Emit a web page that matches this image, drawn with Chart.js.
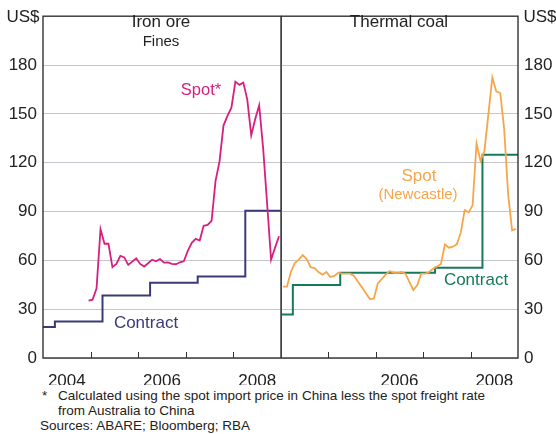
<!DOCTYPE html>
<html>
<head>
<meta charset="utf-8">
<script src="https://cdn.jsdelivr.net/npm/chart.js@4"></script>
<style>
  body { margin: 0; background: #fff; }
  #wrap { position: relative; width: 556px; height: 434px; overflow: hidden;
          font-family: Arial, 'Liberation Sans', sans-serif; color: #222; }
  canvas { position: absolute; top: 0; }
  .lbl { position: absolute; white-space: nowrap; transform: translate(-50%, -50%); }
  .note { position: absolute; font-size: 13.5px; line-height: 15px; white-space: nowrap; color: #222; }
</style>
</head>
<body>
<div id="wrap">
  <canvas id="ironChart" width="282" height="385" style="left:0"></canvas>
  <canvas id="coalChart" width="275" height="385" style="left:281px"></canvas>

  <div class="lbl" style="left:23px; top:17px; font-size:17px">US$</div>
  <div class="lbl" style="left:540px; top:17px; font-size:17px">US$</div>
  <div class="lbl" style="left:161px; top:22px; font-size:17px">Iron ore</div>
  <div class="lbl" style="left:161px; top:40px; font-size:15px">Fines</div>
  <div class="lbl" style="left:399px; top:22px; font-size:17px">Thermal coal</div>
  <div class="lbl" style="left:201px; top:89px; font-size:16.5px; color:#d81e7f">Spot*</div>
  <div class="lbl" style="left:146px; top:323px; font-size:17px; color:#3a3a78">Contract</div>
  <div class="lbl" style="left:419px; top:176px; font-size:17px; color:#f7a54a">Spot</div>
  <div class="lbl" style="left:418px; top:193px; font-size:15px; color:#f7a54a">(Newcastle)</div>
  <div class="lbl" style="left:476px; top:280px; font-size:17px; color:#16795a">Contract</div>

  <div class="note" style="left:42px; top:388px">*</div>
  <div class="note" style="left:58px; top:388px">Calculated using the spot import price in China less the spot freight rate<br>from Australia to China</div>
  <div class="note" style="left:40px; top:418px">Sources: ABARE; Bloomberg; RBA</div>
</div>
<script>
// Monthly series, first point mid-month
const ironSpotStart = 2004 + 11.5 / 12;   // Dec 2004
const ironSpot = [35.2, 35.8, 42.8, 79.2, 70.2, 70.2, 55.8, 57.8, 62.8, 61.8, 57.2, 59.2,
                  61.2, 57.8, 56.2, 58.2, 60.4, 59.4, 60.8, 58.6, 58.8, 57.8, 57.6, 58.8,
                  59.4, 65.8, 70.8, 73.2, 72.2, 81.2, 81.8, 84.2, 108.8, 120.8, 142.8, 148.8,
                  153.8, 169.8, 167.8, 169.2, 158.8, 136.8, 146.8, 155.2, 128.8, 94.8, 60.4, 67.8,
                  74.8];

const coalSpotStart = 2004 + 0.5 / 12;    // Jan 2004
const coalSpot = [43.8, 43.8, 52.8, 58.4, 60.4, 63.2, 60.8, 55.8, 55.2, 52.8, 51.2, 52.8,
                  49.8, 50.4, 52.4, 51.8, 51.8, 51.8, 50.4, 46.8, 43.4, 39.8, 36.2, 36.4,
                  45.8, 48.4, 51.2, 53.4, 52.4, 52.2, 52.8, 51.8, 46.8, 41.8, 44.8, 51.8,
                  51.8, 52.8, 54.8, 56.2, 57.8, 69.8, 67.8, 68.4, 69.8, 76.8, 90.8, 89.5,
                  93.8, 131.8, 121.2, 127.2, 149.8, 172.4, 163.8, 162.8, 140.8, 100.8, 78.4, 79.4];

// Contract prices (change dates, level from that date)
const ironContractDates = [2004, 2004.25, 2005.25, 2006.25, 2007.25, 2008.25, 2009];
const ironContract = [19, 22.5, 38.4, 46.2, 50, 90.4, 90.4];
const coalContractDates = [2004, 2004.25, 2005.25, 2006.25, 2007.25, 2008.25, 2009];
const coalContract = [26.8, 44.8, 52.4, 52.4, 55.4, 124.8, 124.8];

// Axes
const yTicks = [0, 30, 60, 90, 120, 150, 180];
const yearMarks = [2005, 2006, 2007, 2008];
const ironYearLabels = [2004, 2006, 2008];
const coalYearLabels = [2006, 2008];

const monthly = (start, vals) => vals.map((v, i) => ({ x: start + i / 12, y: v }));
const steps = (dates, vals) => vals.map((v, i) => ({ x: dates[i], y: v }));

const tickFont = { family: "Arial, 'Liberation Sans', sans-serif", size: 17 };

// Box round the plot plus short inward year ticks
const framePlugin = {
    id: 'frame',
    afterDraw(chart) {
        const { ctx, chartArea: a, scales } = chart;
        ctx.save();
        ctx.strokeStyle = '#333';
        ctx.lineWidth = 1.4;
        ctx.strokeRect(a.left, a.top, a.right - a.left, a.bottom - a.top);
        ctx.lineWidth = 1;
        ctx.beginPath();
        yearMarks.forEach(yr => {
            const px = Math.round(scales.x.getPixelForValue(yr)) + 0.5;
            ctx.moveTo(px, a.bottom);
            ctx.lineTo(px, a.bottom - 6);
        });
        ctx.stroke();
        ctx.restore();
    }
};

function makePanel(id, spot, spotColor, contract, contractColor, labelYears, side) {
    return new Chart(document.getElementById(id), {
        type: 'line',
        data: {
            datasets: [
                { data: spot, borderColor: spotColor, borderWidth: 1.8, pointRadius: 0, tension: 0 },
                { data: contract, borderColor: contractColor, borderWidth: 2, pointRadius: 0, stepped: true }
            ]
        },
        options: {
            responsive: false,
            animation: false,
            layout: { padding: side === 'left' ? { top: 8, right: 1, left: 0, bottom: 0 }
                                                : { top: 8, right: 0, left: 0, bottom: 0 } },
            plugins: { legend: { display: false }, tooltip: { enabled: false } },
            scales: {
                x: {
                    type: 'linear', min: 2004, max: 2009,
                    grid: { display: false }, border: { display: false },
                    afterBuildTicks: s => { s.ticks = labelYears.map(y => ({ value: y + 0.5 })); },
                    afterFit: s => { s.height = 27; },
                    ticks: { font: tickFont, color: '#222', padding: 5, maxRotation: 0,
                             callback: v => String(Math.floor(v)) }
                },
                y: {
                    position: side, min: 0, max: 210,
                    grid: { color: '#c3c6ca', lineWidth: 1, drawTicks: false },
                    border: { display: false },
                    afterBuildTicks: s => { s.ticks = yTicks.map(v => ({ value: v })); },
                    afterFit: s => { s.width = side === 'left' ? 43 : 38; },
                    ticks: { font: tickFont, color: '#222', padding: 6 }
                }
            }
        },
        plugins: [framePlugin]
    });
}

makePanel('ironChart', monthly(ironSpotStart, ironSpot), '#d81e7f',
          steps(ironContractDates, ironContract), '#3a3a78', ironYearLabels, 'left');
makePanel('coalChart', monthly(coalSpotStart, coalSpot), '#f7a54a',
          steps(coalContractDates, coalContract), '#16795a', coalYearLabels, 'right');
</script>
</body>
</html>
